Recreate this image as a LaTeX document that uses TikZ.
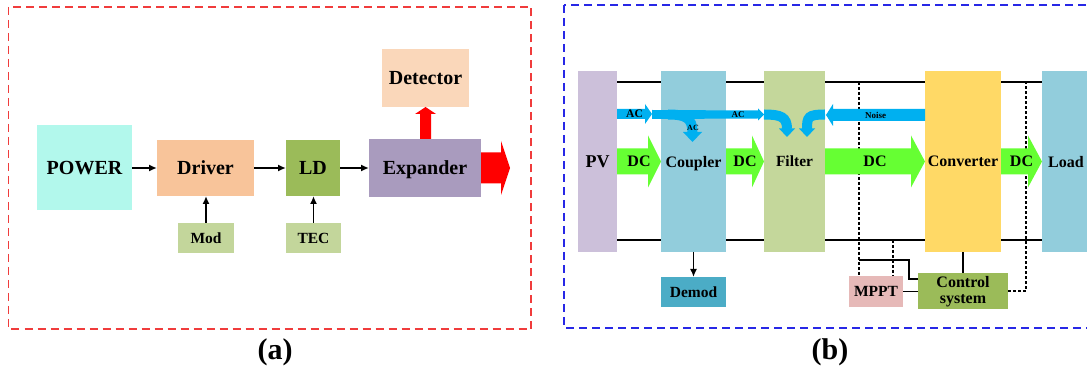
\documentclass[tikz,border=0pt]{standalone}
\usepackage{fontspec}
\setmainfont{Liberation Serif}
\usetikzlibrary{arrows.meta,calc}
\definecolor{powercol}{RGB}{178,248,236}
\definecolor{drivercol}{RGB}{248,196,154}
\definecolor{ldcol}{RGB}{155,187,89}
\definecolor{expcol}{RGB}{169,155,190}
\definecolor{detcol}{RGB}{250,215,186}
\definecolor{modcol}{RGB}{195,214,155}
\definecolor{pvcol}{RGB}{204,192,218}
\definecolor{coupcol}{RGB}{146,205,220}
\definecolor{filtcol}{RGB}{196,215,155}
\definecolor{convcol}{RGB}{255,217,102}
\definecolor{loadcol}{RGB}{146,205,220}
\definecolor{demodcol}{RGB}{75,172,198}
\definecolor{mpptcol}{RGB}{230,185,184}
\definecolor{ctrlcol}{RGB}{155,187,89}
\definecolor{acblue}{RGB}{0,176,240}
\definecolor{dcgreen}{RGB}{102,255,51}
\definecolor{redarr}{RGB}{255,0,0}
\definecolor{redborder}{RGB}{240,60,60}
\definecolor{blueborder}{RGB}{40,40,230}
\pgfdeclarelayer{bg}
\pgfsetlayers{bg,main}
\newcommand{\dcarrow}[4]{%
  \fill[dcgreen] ($(#1.east)+(0,-13)$) -- ($(#2.west)+(-#3,-13)$) -- ($(#2.west)+(-#3,-26)$) -- (#2.west) -- ($(#2.west)+(-#3,26)$) -- ($(#2.west)+(-#3,13)$) -- ($(#1.east)+(0,13)$) -- cycle;
  \node[lbl=16] (#4) at ($(#1.east)!0.5!(#2.west)$) {DC};}
\begin{document}
\begin{tikzpicture}[x=1pt,y=-1pt,
  box/.style={rectangle, inner sep=0pt, outer sep=0pt, draw=none, text depth=0pt},
  lbl/.style={font=\bfseries\fontsize{#1}{#1}\selectfont, inner sep=0pt, text depth=0pt},
  arr/.style={line width=1.6pt, -{Latex[length=8pt,width=7pt]}},
  bus/.style={line width=2pt},
  ctl/.style={line width=1.4pt},
  dsh/.style={line width=1.2pt, dash pattern=on 3pt off 2pt},
  redb/.style={draw=redborder, line width=1.5pt, dash pattern=on 8pt off 5pt},
  blueb/.style={draw=blueborder, line width=1.5pt, dash pattern=on 8pt off 5pt},
  acarrow/.style={fill=acblue},
  acstroke/.style={draw=acblue, line width=10pt}]
\useasboundingbox (0,0) rectangle (1087,371);
\draw[redb] (8.5,7) rectangle (531,329);
\draw[blueb] (564,5) rectangle (1100,328);

% ---------------- (a) ----------------
\node[box, lbl=20, fill=powercol, minimum width=95pt, minimum height=85pt] (power) at (84.5,168) {POWER};
\node[box, lbl=20, fill=drivercol, minimum width=97pt, minimum height=56pt] (driver) at (205.5,168) {Driver};
\node[box, lbl=20, fill=ldcol, minimum width=54pt, minimum height=56pt] (ld) at (313,168) {LD};
\node[box, lbl=20, fill=expcol, minimum width=112pt, minimum height=58pt] (exp) at (425,168) {Expander};
\node[box, lbl=20, fill=detcol, minimum width=87pt, minimum height=58pt] (det) at (425.5,78) {Detector};
\node[box, lbl=15.5, fill=modcol, minimum width=56pt, minimum height=30pt] (mod) at (206,238) {Mod};
\node[box, lbl=15.5, fill=modcol, minimum width=55pt, minimum height=30pt] (tec) at (313.5,238) {TEC};

\draw[arr] (power.east) -- (driver.west);
\draw[arr] (driver.east) -- (ld.west);
\draw[arr] (ld.east) -- (exp.west);
\draw[arr] (mod.north) -- (mod.north |- driver.south);
\draw[arr] (tec.north) -- (tec.north |- ld.south);

\begin{scope}[shift={(det.south)}]
\fill[redarr] (0,0) -- (10.5,7) -- (5.5,7) -- (5.5,32) -- (-5.5,32) -- (-5.5,7) -- (-10.5,7) -- cycle;
\end{scope}
\begin{scope}[shift={(exp.east)}]
\fill[redarr] (0,-15.5) -- (20,-15.5) -- (20,-27) -- (29,0) -- (20,27) -- (20,15.5) -- (0,15.5) -- cycle;
\end{scope}

\node[lbl=30, anchor=base] (capa) at (275,359.5) {(a)};

% ---------------- (b) ----------------
\node[box, lbl=18, fill=pvcol, minimum width=39pt, minimum height=181pt] (pv) at (597.5,161.5) {PV};
\node[box, lbl=16, fill=coupcol, minimum width=65pt, minimum height=181pt] (coup) at (693.5,161.5) {Coupler};
\node[box, lbl=15.5, fill=filtcol, minimum width=61pt, minimum height=181pt] (filt) at (794.5,161.5) {Filter};
\node[box, lbl=16, fill=convcol, minimum width=76pt, minimum height=181pt] (conv) at (963,161.5) {Converter};
\node[box, lbl=16, fill=loadcol, minimum width=48pt, minimum height=181pt] (load) at (1066,161.5) {Load};
\node[box, lbl=15.5, fill=demodcol, minimum width=65pt, minimum height=30pt] (demod) at (693.5,292) {Demod};
\node[box, lbl=15.5, fill=mpptcol, minimum width=54pt, minimum height=31pt] (mppt) at (876,291.5) {MPPT};
\node[box, fill=ctrlcol, minimum width=90pt, minimum height=36pt] (ctrl) at (963,291) {};
\node[font=\bfseries\fontsize{16}{16.7}\selectfont, align=center, inner sep=0pt] (ctrltxt) at (963,291.8) {Control\\system};

\coordinate (tb) at (0,82);
\coordinate (bb) at (0,240);
\coordinate (m1) at (859,82);
\coordinate (m2) at (893,240);
\coordinate (m3) at (1026,82);
\coordinate (k1) at (909,279);
\coordinate (k2) at (909,260);

\begin{pgfonlayer}{bg}
\draw[bus] (pv.east |- tb) -- (load.west |- tb);
\draw[bus] (pv.east |- bb) -- (load.west |- bb);
\draw[dsh] (m1) -- (m1 |- mppt.north);
\draw[dsh] (m2) -- (m2 |- mppt.north);
\draw[dsh] (ctrl.east) -- (ctrl.east -| m3) -- (m3);
\draw[ctl] (conv.south) -- (ctrl.north);
\draw[ctl] (mppt.east) -- (mppt.east -| ctrl.west);
\draw[ctl] (ctrl.west |- k1) -- (k1) -- (k2) -- (k2 -| m1);
\end{pgfonlayer}

\draw[arr] (coup.south) -- (demod.north);

% DC arrows
\dcarrow{pv}{coup}{13}{dc1}
\dcarrow{coup}{filt}{12}{dc2}
\dcarrow{filt}{conv}{14}{dc3}
\dcarrow{conv}{load}{14}{dc4}

% AC arrows
\fill[acarrow] (617,109) -- (645,109) -- (645,104) -- (652,114) -- (645,124) -- (645,119) -- (617,119) -- cycle;
\fill[acarrow] (652,110) -- (758,110.5) -- (758,108.5) -- (764,114.5) -- (758,120.5) -- (758,118.5) -- (652,119) -- cycle;
\draw[acstroke] (668,114.5) .. controls (686,114.5) and (692.5,118) .. (692.5,133);
\fill[acarrow] (683,132) -- (702,132) -- (692.5,142) -- cycle;
\draw[acstroke] (764,114.5) .. controls (781,114.5) and (787,117) .. (787,129);
\fill[acarrow] (779,128.5) -- (795,128.5) -- (787,137) -- cycle;
\draw[acstroke] (825,114.5) .. controls (808,114.5) and (807,117) .. (807,129);
\fill[acarrow] (799,128.5) -- (815,128.5) -- (807,137) -- cycle;
\fill[acarrow] (conv.west |- 0,109) -- (833,109) -- (833,104) -- (826,115) -- (833,126) -- (833,121) -- (conv.west |- 0,121) -- cycle;

\node[lbl=11.5] (ac1) at (634.5,114) {AC};
\node[lbl=8] (ac2) at (693,128) {AC};
\node[lbl=9] (ac3) at (738,114.5) {AC};
\node[lbl=9] (noise) at (875.5,115) {Noise};

\node[lbl=30, anchor=base] (capb) at (830,359.5) {(b)};
\end{tikzpicture}
\end{document}
